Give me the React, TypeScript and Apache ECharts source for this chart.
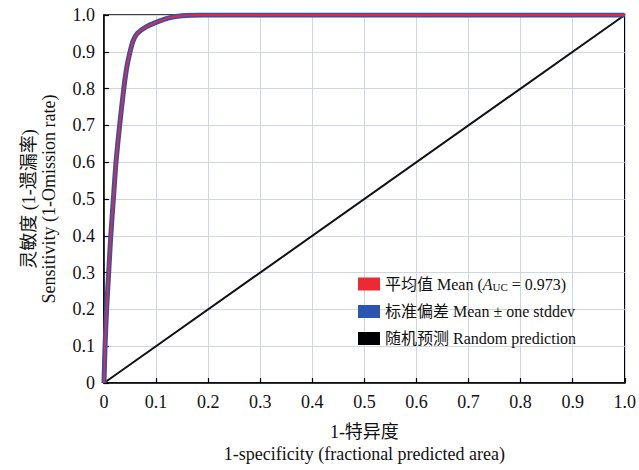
import React, { useEffect, useRef } from "react";
import * as echarts from "echarts";

const fpr = [0, 0.002, 0.005, 0.009, 0.013, 0.018, 0.023, 0.03, 0.038, 0.044, 0.05, 0.056, 0.064, 0.08, 0.1, 0.125, 0.15, 0.19, 0.4, 0.7, 1.0];
const tpr = [0, 0.1, 0.2, 0.3, 0.4, 0.5, 0.6, 0.7, 0.8, 0.86, 0.9, 0.93, 0.95, 0.967, 0.98, 0.992, 0.998, 1.0, 1.0, 1.0, 1.0];
const randomX = [0, 1];
const randomY = [0, 1];
const seriesNames = ["平均值 Mean", "标准偏差 Mean ± one stddev", "随机预测 Random prediction"];
const aucText = "0.973";

const FONT = "Liberation Serif, Noto Sans CJK SC, serif";

const fmt = (v: number) => (v === 0 ? "0" : v === 1 ? "1.0" : v.toFixed(1));

export default function App() {
  const ref = useRef<HTMLDivElement>(null);
  useEffect(() => {
    document.body.style.margin = "0";
    const chart = echarts.init(ref.current!, null, { renderer: "svg" });
    const meanData = fpr.map((x, i) => [x, tpr[i]]);
    chart.setOption({
      animation: false,
      backgroundColor: "#fff",
      textStyle: { fontFamily: FONT },
      grid: { left: 104, right: 14, top: 15, bottom: 86, show: true, borderColor: "#000", borderWidth: 1.5, backgroundColor: "transparent" },
      xAxis: {
        type: "value",
        min: 0,
        max: 1,
        interval: 0.1,
        axisLine: { show: true, lineStyle: { color: "#000", width: 1.5 } },
        axisTick: { show: true, inside: true, length: 5, lineStyle: { color: "#000", width: 1.2 } },
        splitLine: { show: true, lineStyle: { color: "#cfd6e0", width: 1 } },
        axisLabel: { show: true, color: "#111", fontFamily: FONT, fontSize: 18, margin: 10, formatter: fmt },
        name: "1-特异度\n1-specificity (fractional predicted area)",
        nameLocation: "middle",
        nameGap: 38,
        nameTextStyle: { color: "#111", fontFamily: FONT, fontSize: 18, lineHeight: 22, verticalAlign: "top" },
      },
      yAxis: {
        type: "value",
        min: 0,
        max: 1,
        interval: 0.1,
        axisLine: { show: true, lineStyle: { color: "#000", width: 1.5 } },
        axisTick: { show: true, inside: true, length: 5, lineStyle: { color: "#000", width: 1.2 } },
        splitLine: { show: true, lineStyle: { color: "#cfd6e0", width: 1 } },
        axisLabel: { show: true, color: "#111", fontFamily: FONT, fontSize: 18, margin: 9, formatter: fmt },
        name: "灵敏度 (1-遗漏率)\nSensitivity (1-Omission rate)",
        nameLocation: "middle",
        nameGap: 45,
        nameRotate: 90,
        nameTextStyle: { color: "#111", fontFamily: FONT, fontSize: 18, lineHeight: 20 },
      },
      legend: {
        orient: "vertical",
        left: 353,
        top: 271,
        itemWidth: 22,
        itemHeight: 13,
        itemGap: 11,
        icon: "rect",
        data: seriesNames,
        textStyle: {
          color: "#111",
          fontFamily: FONT,
          fontSize: 16,
          rich: {
            i: { fontStyle: "italic", fontFamily: FONT, fontSize: 16, color: "#111" },
            sub: { fontFamily: FONT, fontSize: 11, color: "#111", padding: [6, 0, 0, 0] },
            n: { fontFamily: FONT, fontSize: 16, color: "#111" },
          },
        },
        formatter: (name: string) =>
          name === seriesNames[0] ? `{n|${name} (}{i|A}{sub|UC}{n| = ${aucText})}` : `{n|${name}}`,
      },
      series: [
        {
          name: seriesNames[1],
          type: "line",
          data: meanData,
          showSymbol: false,
          symbol: "none",
          smooth: 0.2,
          itemStyle: { color: "#2b55b0" },
          lineStyle: { color: "#2b55b0", width: 5 },
          z: 2,
        },
        {
          name: seriesNames[0],
          type: "line",
          data: meanData,
          showSymbol: false,
          symbol: "none",
          smooth: 0.2,
          itemStyle: { color: "#ec2a33" },
          lineStyle: { color: "#e8264a", width: 1.8 },
          z: 3,
        },
        {
          name: seriesNames[2],
          type: "line",
          data: randomX.map((x, i) => [x, randomY[i]]),
          showSymbol: false,
          symbol: "none",
          itemStyle: { color: "#000" },
          lineStyle: { color: "#111", width: 2 },
          z: 1,
        },
      ],
    });
    return () => chart.dispose();
  }, []);
  return <div ref={ref} style={{ width: 639, height: 470 }} />;
}
